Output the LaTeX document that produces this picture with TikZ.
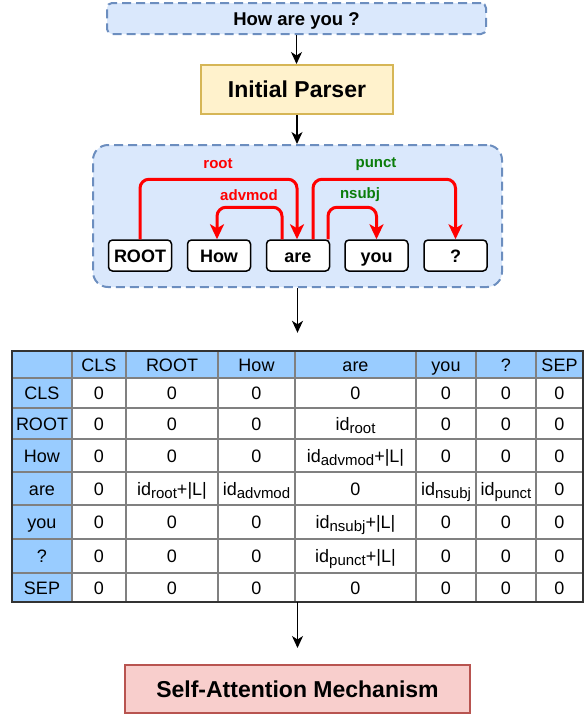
\documentclass[tikz,border=0pt]{standalone}
\usepackage{fontspec}
\setmainfont{Liberation Sans}
\usetikzlibrary{arrows.meta,calc}
\definecolor{blueFill}{HTML}{DAE8FC}
\definecolor{blueLine}{HTML}{6C8EBF}
\definecolor{yelFill}{HTML}{FFF2CC}
\definecolor{yelLine}{HTML}{D6B656}
\definecolor{redFill}{HTML}{F8CECC}
\definecolor{redLine}{HTML}{B85450}
\definecolor{hdrFill}{HTML}{99CCFF}
\definecolor{gridGray}{HTML}{808080}
\definecolor{tblBorder}{HTML}{333333}
\definecolor{depGreen}{HTML}{0A7D0A}
\newcommand\idsub[1]{\raisebox{-0.35ex}{\fontsize{15}{15}\selectfont #1}}
\begin{document}
\begin{tikzpicture}[x=1pt,y=-1pt,
  dashbox/.style={draw=blueLine, fill=blueFill, line width=2pt, dash pattern=on 9pt off 5pt, inner sep=0pt},
  procbox/.style={line width=2pt, inner sep=0pt, text height=16.5pt, text depth=0pt, font=\fontsize{23}{23}\selectfont\bfseries},
  word/.style={draw=black, line width=1.5pt, rounded corners=4pt, fill=white, minimum width=63pt, minimum height=31pt, inner sep=0pt, text height=13pt, text depth=0pt, font=\fontsize{18}{18}\selectfont\bfseries},
  dep/.style={draw=red, line width=3pt, rounded corners=9pt, -{Stealth[length=15pt,width=14pt,inset=4pt]}},
  deplbl/.style={font=\fontsize{15}{15}\selectfont\bfseries},
  flow/.style={draw=black, line width=1.5pt, -{Stealth[length=12pt,width=11pt,inset=3.5pt]}},
  grid/.style={draw=gridGray, line width=1.8pt},
  cell/.style={anchor=base, inner sep=0pt, font=\fontsize{18}{18}\selectfont}
]
\useasboundingbox (0,0) rectangle (588,718);

% input sentence
\node[dashbox, rounded corners=5pt, minimum width=379pt, minimum height=31pt, text height=13.2pt, text depth=0pt, font=\fontsize{18.5}{18.5}\selectfont\bfseries] (top) at (296.5,18.5) {How are you ?};

% initial parser
\node[procbox, draw=yelLine, fill=yelFill, minimum width=192pt, minimum height=49pt] (parser) at (297,89.5) {Initial Parser};

% parse container
\node[dashbox, rounded corners=15pt, minimum width=409pt, minimum height=142pt] (cont) at (297.5,216) {};

\node[word] (wROOT) at (140,255.5) {ROOT};
\node[word] (wHow) at (219,255.5) {How};
\node[word] (ware) at (298,255.5) {are};
\node[word] (wyou) at (376.5,255.5) {you};
\node[word] (wQ) at (455.5,255.5) {?};

\draw[dep] (wROOT.north) -- ++(0,-60) -| ([xshift=-1pt]ware.north);
\draw[dep] ([xshift=-16pt]ware.north) -- ++(0,-32) -| ([xshift=-2pt]wHow.north);
\draw[dep] ([xshift=15pt]ware.north) -- ++(0,-60) -| (wQ.north);
\draw[dep] ([xshift=30pt]ware.north) -- ++(0,-32) -| (wyou.north);

\node[deplbl, text=red] (lroot) at (218,164) {root};
\node[deplbl, text=red] (ladvmod) at (249,195) {advmod};
\node[deplbl, text=depGreen] (lpunct) at (376,164) {punct};
\node[deplbl, text=depGreen] (lnsubj) at (360,195) {nsubj};

% table
\node[inner sep=0pt, minimum width=571pt, minimum height=251pt] (tbl) at (297.5,476.5) {};
\fill[hdrFill] (12,351) rectangle (583,378);
\fill[hdrFill] (12,378) rectangle (72,602);
\foreach \x in {72,126,218,295,416,476,536} \draw[grid] (\x,351) -- (\x,602);
\foreach \y in {378,408,439,472,505,539,573} \draw[grid] (12,\y) -- (583,\y);
\draw[draw=tblBorder, line width=2.2pt] (tbl.north west) rectangle (tbl.south east);

\foreach \yc/\row [count=\r] in {
  364.5/{{},CLS,ROOT,How,are,you,?,SEP},
  393/{CLS,0,0,0,0,0,0,0},
  423.5/{ROOT,0,0,0,id\idsub{root},0,0,0},
  455.5/{How,0,0,0,id\idsub{advmod}+|L|,0,0,0},
  488.5/{are,0,id\idsub{root}+|L|,id\idsub{advmod},0,id\idsub{nsubj},id\idsub{punct},0},
  522/{you,0,0,0,id\idsub{nsubj}+|L|,0,0,0},
  556/{?,0,0,0,id\idsub{punct}+|L|,0,0,0},
  587.5/{SEP,0,0,0,0,0,0,0}}
{
  \foreach \t [count=\c] in \row {
    \pgfmathsetmacro\xc{{42,99,172,256.5,355.5,446,506,559.5}[\c-1]}
    \node[cell] (cell-\r-\c) at (\xc,\yc+6.5) {\t};
  }
}

% self-attention
\node[procbox, draw=redLine, fill=redFill, minimum width=345pt, minimum height=48pt] (sa) at (297.5,689) {Self-Attention Mechanism};

% flow arrows
\draw[flow] (top.south) -- (top.south |- parser.north);
\draw[flow] (parser.south) -- (parser.south |- cont.north);
\draw[flow, shorten >=18pt] (cont.south) -- (cont.south |- tbl.north);
\draw[flow, shorten >=16pt] (tbl.south) -- (tbl.south |- sa.north);
\end{tikzpicture}
\end{document}
